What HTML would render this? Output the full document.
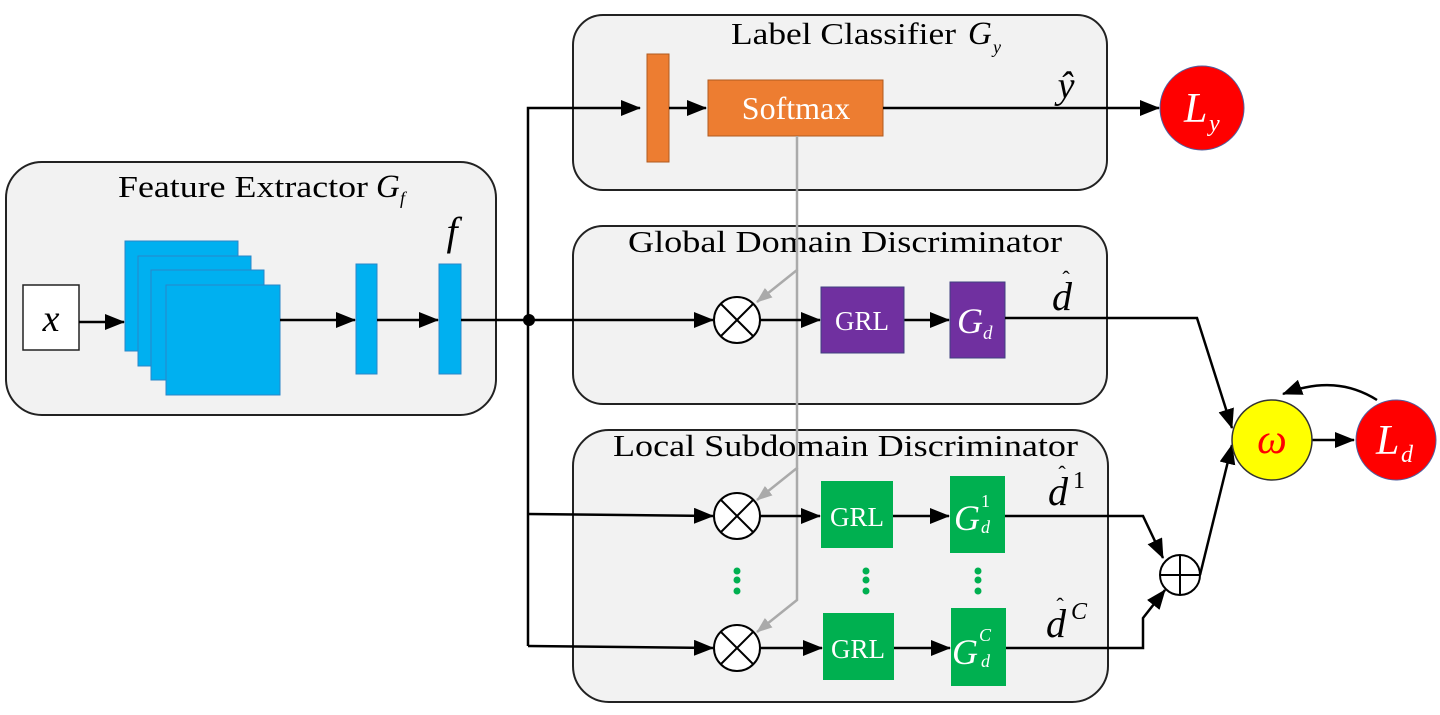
<!DOCTYPE html>
<html><head><meta charset="utf-8"><style>
html,body{margin:0;padding:0;background:#fff;}
svg{display:block;}
text{font-family:"Liberation Serif",serif;}
</style></head><body>
<svg width="1440" height="715" viewBox="0 0 1440 715" xmlns="http://www.w3.org/2000/svg">
<defs>
<marker id="ab" markerWidth="20" markerHeight="16" refX="19" refY="8" orient="auto" markerUnits="userSpaceOnUse" viewBox="0 0 20 16"><path d="M0,0 L20,8 L0,16 z" fill="#000"/></marker>
<marker id="g" markerWidth="16" markerHeight="12" refX="15" refY="6" orient="auto" markerUnits="userSpaceOnUse" viewBox="0 0 16 12"><path d="M0,0 L16,6 L0,12 z" fill="#aaa"/></marker>
</defs>
<rect x="6" y="162" width="490" height="253" rx="36" fill="#f2f2f2" stroke="#222" stroke-width="2"/>
<rect x="573" y="15" width="534" height="175" rx="30" fill="#f2f2f2" stroke="#222" stroke-width="2"/>
<rect x="573" y="226" width="534" height="178" rx="30" fill="#f2f2f2" stroke="#222" stroke-width="2"/>
<rect x="573" y="430" width="535" height="272" rx="36" fill="#f2f2f2" stroke="#222" stroke-width="2"/>

<text x="118" y="197" font-size="31" textLength="250" lengthAdjust="spacingAndGlyphs">Feature Extractor</text>
<text x="376" y="197" font-size="33" font-style="italic">G</text><text x="400" y="204" font-size="18" font-style="italic">f</text>
<text x="731" y="44" font-size="31" textLength="225" lengthAdjust="spacingAndGlyphs">Label Classifier</text>
<text x="968" y="44" font-size="33" font-style="italic">G</text><text x="993" y="53" font-size="18" font-style="italic">y</text>
<text x="628" y="252" font-size="31" textLength="434" lengthAdjust="spacingAndGlyphs">Global Domain Discriminator</text>
<text x="613" y="456" font-size="31" textLength="465" lengthAdjust="spacingAndGlyphs">Local Subdomain Discriminator</text>

<rect x="23" y="285" width="56" height="65" fill="#fff" stroke="#222" stroke-width="1.5"/>
<text x="51" y="331" font-size="38" font-style="italic" text-anchor="middle">x</text>
<g fill="#00b0f0" stroke="#2a86c8" stroke-width="1">
<rect x="125" y="241" width="113" height="110"/>
<rect x="138" y="256" width="113" height="110"/>
<rect x="151" y="270" width="113" height="110"/>
<rect x="166" y="285" width="114" height="110"/>
<rect x="356" y="264" width="21" height="110"/>
<rect x="439" y="264" width="22" height="110"/>
</g>
<text x="452" y="245" font-size="40" font-style="italic" text-anchor="middle">f</text>
<g stroke="#000" stroke-width="2.5" fill="none">
<line x1="79" y1="322" x2="124" y2="322" marker-end="url(#ab)"/>
<line x1="280" y1="320" x2="355" y2="320" marker-end="url(#ab)"/>
<line x1="377" y1="320" x2="438" y2="320" marker-end="url(#ab)"/>
<line x1="461" y1="320" x2="713" y2="320" marker-end="url(#ab)"/>
<polyline points="528,646 528,108 640,108" marker-end="url(#ab)"/>
<polyline points="528,514 713,516" marker-end="url(#ab)"/>
<polyline points="528,646 713,648" marker-end="url(#ab)"/>
</g>
<circle cx="529" cy="320" r="6" fill="#000"/>

<rect x="647" y="54" width="22" height="108" fill="#ed7d31" stroke="#b05a20" stroke-width="1"/>
<rect x="708" y="80" width="175" height="56" fill="#ed7d31" stroke="#b05a20" stroke-width="1"/>
<text x="796" y="119" font-size="32" fill="#fff" text-anchor="middle">Softmax</text>
<line x1="669" y1="108" x2="706" y2="108" stroke="#000" stroke-width="2.5" marker-end="url(#ab)"/>
<line x1="883" y1="108" x2="1159" y2="108" stroke="#000" stroke-width="2.5" marker-end="url(#ab)"/>
<text x="1066" y="98" font-size="38" font-style="italic" text-anchor="middle">ŷ</text>
<circle cx="1202" cy="108" r="42" fill="#ff0000" stroke="#5060a0" stroke-width="1"/>
<text x="1184" y="122" font-size="42" font-style="italic" fill="#fff">L</text><text x="1209" y="131" font-size="24" font-style="italic" fill="#fff">y</text>

<g stroke="#aaa" stroke-width="2.5" fill="none">
<polyline points="797,136 797,270 757,302" marker-end="url(#g)"/>
<polyline points="797,270 797,468 757,500" marker-end="url(#g)"/>
<polyline points="797,468 797,600 757,632" marker-end="url(#g)"/>
</g>

<g stroke="#000" stroke-width="2" fill="#fff">
<circle cx="737" cy="320" r="23"/><circle cx="737" cy="516" r="23"/><circle cx="737" cy="648" r="23"/>
</g>
<g stroke="#000" stroke-width="2">
<path d="M721,304 L753,336 M753,304 L721,336"/>
<path d="M721,500 L753,532 M753,500 L721,532"/>
<path d="M721,632 L753,664 M753,632 L721,664"/>
</g>

<g stroke="#000" stroke-width="2.5">
<line x1="760" y1="320" x2="820" y2="320" marker-end="url(#ab)"/>
<line x1="904" y1="320" x2="949" y2="320" marker-end="url(#ab)"/>
<line x1="760" y1="516" x2="820" y2="516" marker-end="url(#ab)"/>
<line x1="893" y1="516" x2="949" y2="516" marker-end="url(#ab)"/>
<line x1="760" y1="648" x2="822" y2="648" marker-end="url(#ab)"/>
<line x1="894" y1="648" x2="950" y2="648" marker-end="url(#ab)"/>
</g>
<rect x="821" y="287" width="83" height="66" fill="#7030a0" stroke="#404080"/>
<text x="862" y="330" font-size="27" fill="#fff" text-anchor="middle">GRL</text>
<rect x="950" y="282" width="55" height="76" fill="#7030a0" stroke="#404080"/>
<text x="957" y="333" font-size="36" font-style="italic" fill="#fff">G</text><text x="983" y="339" font-size="19" font-style="italic" fill="#fff">d</text>
<text x="1062" y="310" font-size="40" font-style="italic" text-anchor="middle">d</text>
<text x="1066" y="286" font-size="22" text-anchor="middle">ˆ</text>

<g fill="#00b050">
<rect x="821" y="481" width="72" height="67"/>
<rect x="950" y="476" width="55" height="77"/>
<rect x="823" y="613" width="71" height="67"/>
<rect x="951" y="608" width="55" height="78"/>
<circle cx="737" cy="571" r="3.5"/><circle cx="737" cy="580" r="3.5"/><circle cx="737" cy="591" r="3.5"/>
<circle cx="866" cy="571" r="3.5"/><circle cx="866" cy="580" r="3.5"/><circle cx="866" cy="591" r="3.5"/>
<circle cx="978" cy="571" r="3.5"/><circle cx="978" cy="580" r="3.5"/><circle cx="978" cy="591" r="3.5"/>
</g>
<text x="857" y="526" font-size="27" fill="#fff" text-anchor="middle">GRL</text>
<text x="858" y="658" font-size="27" fill="#fff" text-anchor="middle">GRL</text>
<text x="954" y="530" font-size="36" font-style="italic" fill="#fff">G</text>
<text x="981" y="507" font-size="18" fill="#fff">1</text>
<text x="981" y="533" font-size="18" font-style="italic" fill="#fff">d</text>
<text x="952" y="664" font-size="36" font-style="italic" fill="#fff">G</text>
<text x="979" y="641" font-size="18" font-style="italic" fill="#fff">C</text>
<text x="981" y="667" font-size="18" font-style="italic" fill="#fff">d</text>
<text x="1058" y="505" font-size="40" font-style="italic" text-anchor="middle">d</text>
<text x="1062" y="481" font-size="22" text-anchor="middle">ˆ</text>
<text x="1073" y="488" font-size="24">1</text>
<text x="1056" y="637" font-size="40" font-style="italic" text-anchor="middle">d</text>
<text x="1060" y="613" font-size="22" text-anchor="middle">ˆ</text>
<text x="1071" y="619" font-size="24" font-style="italic">C</text>

<g stroke="#000" stroke-width="2.5" fill="none">
<polyline points="1005,318 1197,318 1232,428" marker-end="url(#ab)"/>
<polyline points="1005,516 1143,516 1163,558" marker-end="url(#ab)"/>
<polyline points="1006,648 1143,648 1143,618 1165,590" marker-end="url(#ab)"/>
<polyline points="1200,575 1232,445" marker-end="url(#ab)"/>
<line x1="1312" y1="440" x2="1354" y2="440" marker-end="url(#ab)"/>
<path d="M1377,400 C1350,383 1320,380 1283,394" marker-end="url(#ab)"/>
</g>
<circle cx="1180" cy="575" r="20" fill="#fff" stroke="#000" stroke-width="2"/>
<path d="M1160,575 H1200 M1180,555 V595" stroke="#000" stroke-width="2"/>
<circle cx="1272" cy="440" r="40" fill="#ffff00" stroke="#333" stroke-width="1.5"/>
<text x="1272" y="453" font-size="42" font-style="italic" fill="#ff0000" text-anchor="middle">ω</text>
<circle cx="1396" cy="440" r="40" fill="#ff0000" stroke="#5060a0" stroke-width="1"/>
<text x="1376" y="454" font-size="42" font-style="italic" fill="#fff">L</text><text x="1401" y="462" font-size="24" font-style="italic" fill="#fff">d</text>
</svg>
</body></html>
